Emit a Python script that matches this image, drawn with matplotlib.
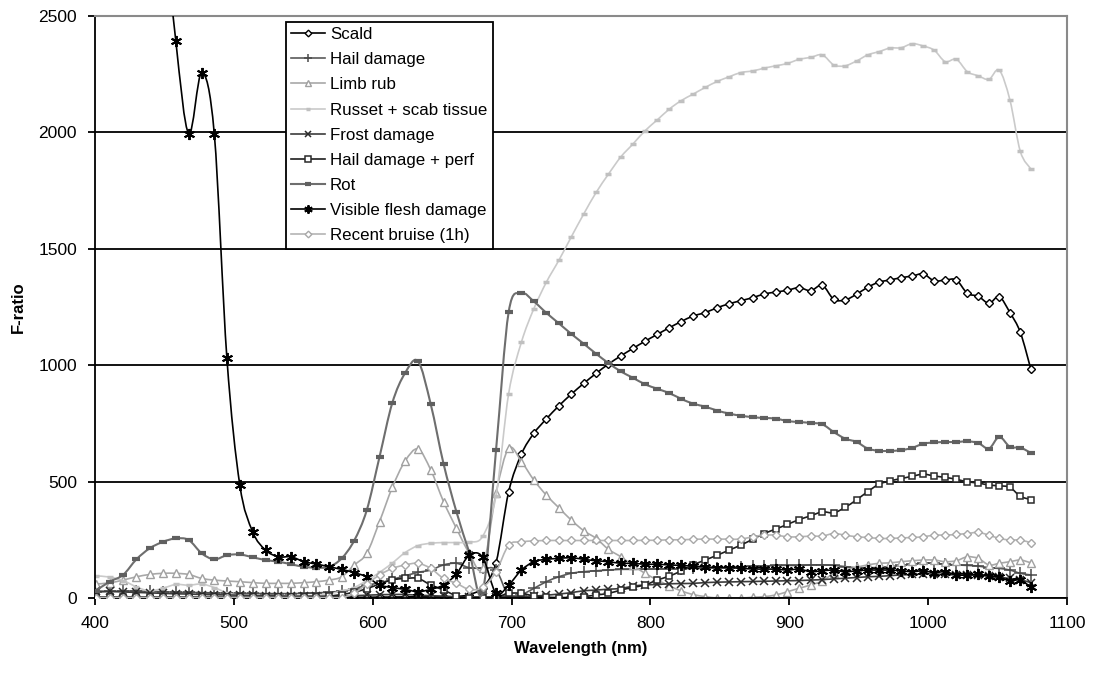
import matplotlib
matplotlib.use("Agg")
import matplotlib.pyplot as plt
from matplotlib.path import Path
from matplotlib.patches import PathPatch
from matplotlib.lines import Line2D

plt.rcParams['font.family'] = ['Liberation Sans', 'DejaVu Sans']

# wavelength of each band (nm)
wavelength = [400.5, 410.5, 420.2, 429.8, 439.3, 448.8, 458.2, 467.5, 476.8, 485.9,
              495.0, 504.3, 513.6, 522.8, 532.0, 541.2, 550.4, 559.5, 568.6, 577.6,
              586.6, 595.7, 604.9, 614.1, 623.3, 632.6, 641.8, 651.0, 660.3, 669.6,
              679.2, 688.8, 697.9, 707.1, 716.0, 725.0, 734.0, 742.9, 752.0, 760.9,
              769.8, 778.7, 787.4, 796.1, 804.8, 813.6, 822.0, 830.6, 839.4, 848.1,
              856.8, 865.0, 873.6, 882.0, 890.2, 898.6, 907.2, 915.4, 923.8, 932.0,
              940.1, 948.5, 956.5, 964.6, 972.5, 980.6, 988.6, 996.5, 1004.4, 1012.3,
              1020.3, 1028.2, 1036.1, 1043.8, 1051.2, 1058.9, 1066.4, 1074.0]

scald = [3, 3, 3, 3, 3, 3, 3, 3, 3, 3,
         3, 3, 3, 3, 3, 3, 3, 3, 3, 3,
         3, 3, 4, 4, 5, 5, 5, 5, 6, 15,
         45, 152, 456, 618, 707, 769, 825, 875, 922, 965,
         1005, 1040, 1072, 1103, 1132, 1161, 1187, 1211, 1226, 1247,
         1264, 1277, 1290, 1306, 1314, 1322, 1333, 1320, 1343, 1283,
         1280, 1305, 1335, 1357, 1366, 1376, 1383, 1392, 1362, 1366,
         1366, 1309, 1296, 1266, 1294, 1226, 1141, 982]

hail = [25, 28, 30, 30, 28, 27, 25, 24, 23, 22,
        21, 20, 20, 19, 19, 19, 20, 22, 25, 30,
        40, 55, 65, 80, 95, 110, 120, 142, 149, 130,
        127, 120, 10, 15, 41, 70, 91, 106, 113, 117,
        120, 123, 123, 124, 125, 126, 126, 127, 127, 130,
        131, 134, 137, 137, 140, 140, 140, 142, 142, 140,
        135, 130, 130, 131, 134, 140, 145, 149, 149, 145,
        142, 140, 137, 130, 127, 120, 106, 99]

limb_rub = [60, 65, 77, 91, 101, 106, 106, 101, 84, 77,
            73, 70, 66, 63, 63, 63, 66, 70, 77, 91,
            141, 192, 328, 475, 588, 640, 550, 414, 299, 192,
            130, 450, 643, 586, 507, 442, 388, 335, 289, 256,
            209, 177, 140, 106, 78, 52, 31, 15, 6, 0,
            0, 0, 3, 6, 13, 27, 42, 56, 73, 106,
            120, 132, 142, 149, 151, 156, 160, 163, 163, 156,
            160, 177, 170, 142, 149, 156, 163, 151]

russet = [95, 90, 75, 48, 30, 42, 58, 55, 60, 45,
          22, 12, 10, 10, 10, 10, 10, 12, 18, 30,
          45, 75, 110, 150, 195, 225, 235, 238, 238, 240,
          265, 440, 878, 1099, 1242, 1356, 1450, 1550, 1650, 1742,
          1821, 1895, 1950, 2007, 2053, 2100, 2136, 2164, 2193, 2219,
          2239, 2257, 2264, 2276, 2286, 2296, 2314, 2322, 2333, 2290,
          2286, 2307, 2333, 2347, 2362, 2364, 2381, 2371, 2353, 2304,
          2314, 2261, 2243, 2228, 2267, 2139, 1918, 1843]

frost = [30, 28, 26, 24, 22, 20, 18, 17, 15, 14,
         13, 12, 11, 10, 9, 8, 8, 8, 8, 9,
         10, 12, 14, 15, 15, 12, 10, 8, 6, 5,
         5, 5, 5, 6, 8, 12, 17, 23, 31, 34,
         38, 41, 51, 56, 58, 61, 62, 63, 66, 68,
         69, 70, 71, 72, 73, 74, 75, 77, 79, 82,
         85, 88, 91, 93, 96, 99, 101, 103, 103, 101,
         99, 98, 97, 94, 89, 84, 78, 66]

hail_perf = [3, 3, 3, 3, 3, 3, 3, 3, 3, 3,
             3, 3, 3, 3, 3, 3, 3, 3, 8, 15,
             25, 40, 60, 78, 84, 84, 56, 34, 10, 2,
             0, 3, 20, 20, 9, 4, 2, 3, 6, 13,
             20, 34, 46, 56, 77, 94, 116, 142, 163, 184,
             206, 227, 252, 277, 296, 316, 337, 353, 370, 366,
             389, 422, 457, 489, 503, 513, 523, 532, 524, 518,
             510, 499, 494, 485, 482, 475, 437, 423]

rot = [31, 70, 99, 166, 213, 241, 256, 249, 192, 166,
       184, 187, 175, 163, 156, 145, 134, 130, 134, 170,
       246, 377, 606, 838, 966, 1017, 832, 577, 370, 195,
       25, 635, 1228, 1309, 1274, 1225, 1180, 1135, 1092, 1049,
       1009, 973, 946, 918, 899, 880, 856, 835, 822, 805,
       792, 783, 777, 773, 771, 760, 756, 752, 746, 713,
       685, 670, 642, 632, 632, 635, 645, 663, 668, 670,
       670, 673, 666, 642, 692, 649, 646, 623]

flesh = [8000, 7000, 6000, 5000, 4000, 3000, 2393, 1994, 2256, 1994,
         1029, 485, 284, 206, 177, 177, 156, 146, 134, 123,
         109, 91, 56, 45, 37, 27, 37, 56, 103, 184,
         175, 20, 56, 120, 156, 166, 170, 173, 166, 160,
         156, 149, 149, 145, 145, 142, 140, 137, 134, 131,
         131, 127, 125, 124, 124, 120, 124, 113, 117, 120,
         113, 117, 120, 120, 120, 117, 113, 117, 109, 113,
         99, 99, 102, 94, 89, 74, 77, 46]

bruise = [2, 2, 2, 2, 2, 2, 2, 2, 2, 2,
          2, 2, 2, 2, 2, 2, 2, 2, 2, 2,
          20, 60, 99, 127, 142, 149, 127, 84, 63, 37,
          46, 113, 227, 241, 245, 247, 247, 247, 247, 247,
          247, 247, 247, 248, 248, 250, 250, 252, 253, 253,
          253, 253, 263, 270, 270, 263, 263, 266, 266, 277,
          270, 263, 260, 256, 256, 258, 260, 263, 270, 270,
          273, 277, 282, 270, 256, 249, 249, 237]

series = [
    ("Scald", scald, dict(color="black", lw=1.2),
     dict(marker="D", ms=4.5, mfc="white", mec="black", mew=1.0)),
    ("Hail damage", hail, dict(color="#5a5a5a", lw=1.2),
     dict(marker="+", ms=8, mec="#4a4a4a", mew=1.1)),
    ("Limb rub", limb_rub, dict(color="#a8a8a8", lw=1.2),
     dict(marker="^", ms=5.5, mfc="white", mec="#a0a0a0", mew=1.0)),
    ("Russet + scab tissue", russet, dict(color="#cacaca", lw=1.2),
     dict(marker="_", ms=4.5, mec="#c0c0c0", mew=2.5)),
    ("Frost damage", frost, dict(color="#3c3c3c", lw=1.2),
     dict(marker="x", ms=5.5, mec="#2a2a2a", mew=1.1)),
    ("Hail damage + perf", hail_perf, dict(color="#1e1e1e", lw=1.2),
     dict(marker="s", ms=5, mfc="white", mec="#2a2a2a", mew=1.1)),
    ("Rot", rot, dict(color="#6e6e6e", lw=1.5),
     dict(marker="_", ms=6, mec="#606060", mew=3)),
    ("Visible flesh damage", flesh, dict(color="black", lw=1.2),
     dict(marker=(6, 2, 0), ms=8, mec="black", mew=1.4)),
    ("Recent bruise (1h)", bruise, dict(color="#b4b4b4", lw=1.2),
     dict(marker="D", ms=4.5, mfc="white", mec="#a8a8a8", mew=1.0)),
]


def smooth_path(xs, ys):
    # Excel-style smoothed line: cubic Bezier through every point
    n = len(xs)
    verts = [(xs[0], ys[0])]
    codes = [Path.MOVETO]
    for i in range(n - 1):
        x0, y0 = (xs[i - 1], ys[i - 1]) if i > 0 else (xs[i], ys[i])
        x3, y3 = (xs[i + 2], ys[i + 2]) if i + 2 < n else (xs[i + 1], ys[i + 1])
        c1 = (xs[i] + (xs[i + 1] - x0) / 6, ys[i] + (ys[i + 1] - y0) / 6)
        c2 = (xs[i + 1] - (x3 - xs[i]) / 6, ys[i + 1] - (y3 - ys[i]) / 6)
        verts += [c1, c2, (xs[i + 1], ys[i + 1])]
        codes += [Path.CURVE4] * 3
    return Path(verts, codes)


fig = plt.figure(figsize=(10.97, 6.73), dpi=100)
ax = fig.add_axes([95 / 1097, 75 / 673, 972 / 1097, 582 / 673])

handles = []
for k, (name, vals, lstyle, mstyle) in enumerate(series):
    z = 2 + k * 0.1
    ax.add_patch(PathPatch(smooth_path(wavelength, vals), fill=False, edgecolor=lstyle["color"],
                           lw=lstyle["lw"], zorder=z, capstyle="round", joinstyle="round"))
    ax.plot(wavelength, vals, ls="none", zorder=z + 0.05, **mstyle)
    handles.append(Line2D([], [], color=lstyle["color"], lw=lstyle["lw"], **mstyle))

ax.set_xlim(400, 1100)
ax.set_ylim(0, 2500)
ax.set_xticks(range(400, 1101, 100))
ax.set_yticks(range(0, 2501, 500))
ax.yaxis.grid(True, color="black", lw=1.3)
ax.set_axisbelow(True)

for side in ["top", "right"]:
    ax.spines[side].set_color("#8a8a8a")
    ax.spines[side].set_linewidth(1.5)
for side in ["left", "bottom"]:
    ax.spines[side].set_color("black")
    ax.spines[side].set_linewidth(1.3)

ax.tick_params(direction="out", length=5, width=1.3, labelsize=12.5, pad=8)
ax.set_xlabel("Wavelength (nm)", fontsize=12, fontweight="bold", labelpad=7)
ax.set_ylabel("F-ratio", fontsize=12, fontweight="bold", labelpad=9)

leg = ax.legend(handles, [s[0] for s in series], loc="upper left",
                bbox_to_anchor=(286 / 1097, 651 / 673), bbox_transform=fig.transFigure,
                fontsize=12.2, frameon=True, fancybox=False, framealpha=1, edgecolor="black",
                borderpad=0.3, labelspacing=0.6, handlelength=2.0, handletextpad=0.3,
                borderaxespad=0, markerscale=0.75)
leg.get_frame().set_linewidth(1.3)

fig.savefig("out.png", dpi=100)
